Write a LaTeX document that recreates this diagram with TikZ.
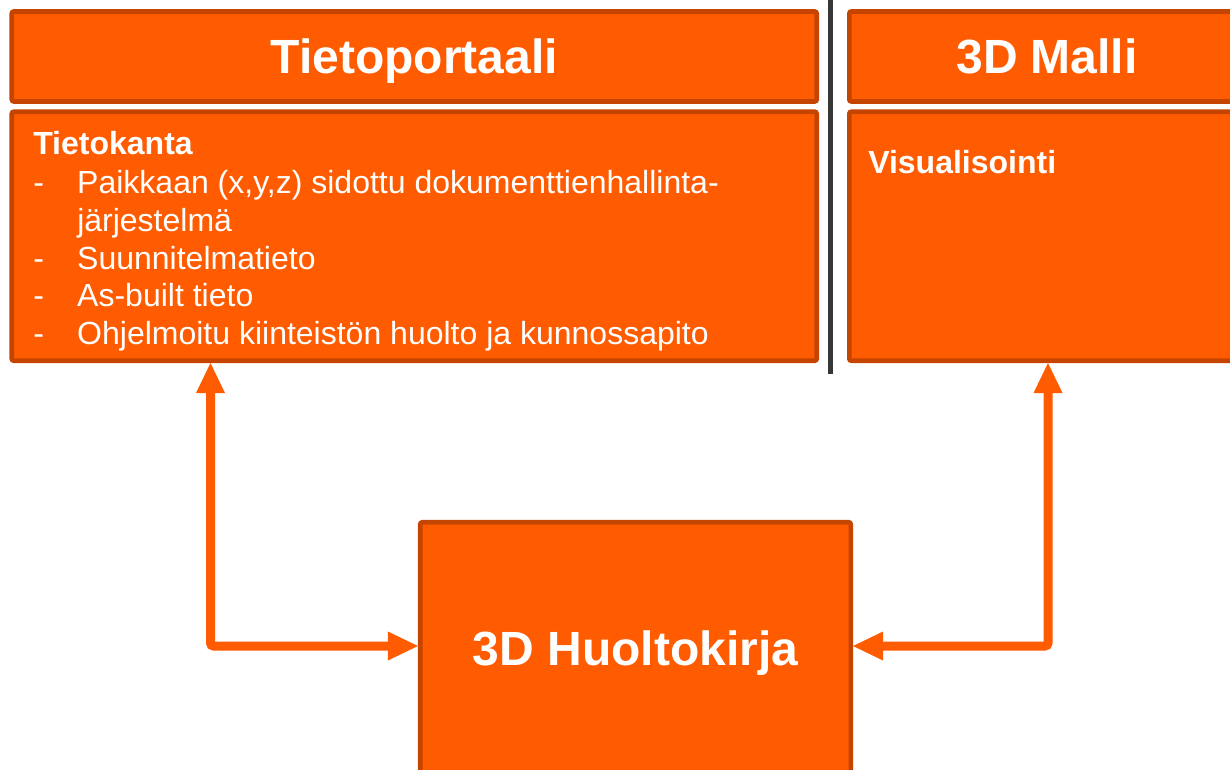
\documentclass[tikz,border=0pt]{standalone}
\usepackage{fontspec}
\setmainfont{Liberation Sans}
\usetikzlibrary{arrows.meta}
\definecolor{boxfill}{RGB}{255,91,0}
\definecolor{boxedge}{RGB}{196,68,0}
\definecolor{sepgray}{RGB}{55,55,55}
\tikzset{
  box/.style={draw=boxedge, fill=boxfill, line width=3.4pt, rounded corners=1.5pt,
    inner sep=0pt, text=white},
  titlebox/.style={box, font=\bfseries\fontsize{36pt}{40pt}\selectfont,
    text height=25.8pt, text depth=0pt, minimum height=67.5pt},
  bodytext/.style={text=white, inner sep=0pt, font=\fontsize{24pt}{28.3pt}\selectfont},
  tipshape/.tip={Triangle[length=22.5pt, width=21.75pt, line width=0pt]},
  conn/.style={draw=boxfill, line width=6.75pt, rounded corners=2.25pt, tipshape-tipshape},
  sepline/.style={draw=sepgray, line width=3.2pt}
}
\begin{document}
\begin{tikzpicture}[x=0.75pt, y=-0.75pt]
\useasboundingbox (0,0) rectangle (1230,770);
\clip (0,0) rectangle (1230,770);
% separator
\coordinate (sepTop) at (830.5,0);
\coordinate (sepBot) at (830.5,374);
\draw[sepline] (sepTop) -- (sepBot);
% boxes
\node[titlebox, minimum width=603.75pt] (title1) at (414.25,56.5) {Tietoportaali};
\node[box, minimum width=603.75pt, minimum height=186.75pt] (body1) at (414.25,236.25) {};
\node[titlebox, minimum width=296.6pt] (title2) at (1047,56.5) {3D Malli};
\node[box, minimum width=296.6pt, minimum height=186.75pt] (body2) at (1047,236.25) {};
\node[titlebox, minimum width=322.9pt, minimum height=189.4pt] (hk) at (635.5,648.5) {3D Huoltokirja};
% body texts
\node[bodytext, anchor=north west, align=left] (body1text) at (33,131) {%
\textbf{Tietokanta}\\[1.1pt]
\makebox[33pt][l]{-}Paikkaan (x,y,z) sidottu dokumenttienhallinta-\\
\hspace*{33pt}järjestelmä\\
\makebox[33pt][l]{-}Suunnitelmatieto\\
\makebox[33pt][l]{-}As-built tieto\\
\makebox[33pt][l]{-}Ohjelmoitu kiinteistön huolto ja kunnossapito};
\node[bodytext, anchor=base west, font=\bfseries\fontsize{24pt}{28.3pt}\selectfont] (body2text) at (868,173) {Visualisointi};
% connectors
\coordinate (c1) at (210.5,646);
\coordinate (c2) at (1048,646);
\draw[conn] (body1.south -| c1) -- (c1) -- (hk.west |- c1);
\draw[conn] (hk.east |- c2) -- (c2) -- (body2.south -| c2);
\end{tikzpicture}
\end{document}
